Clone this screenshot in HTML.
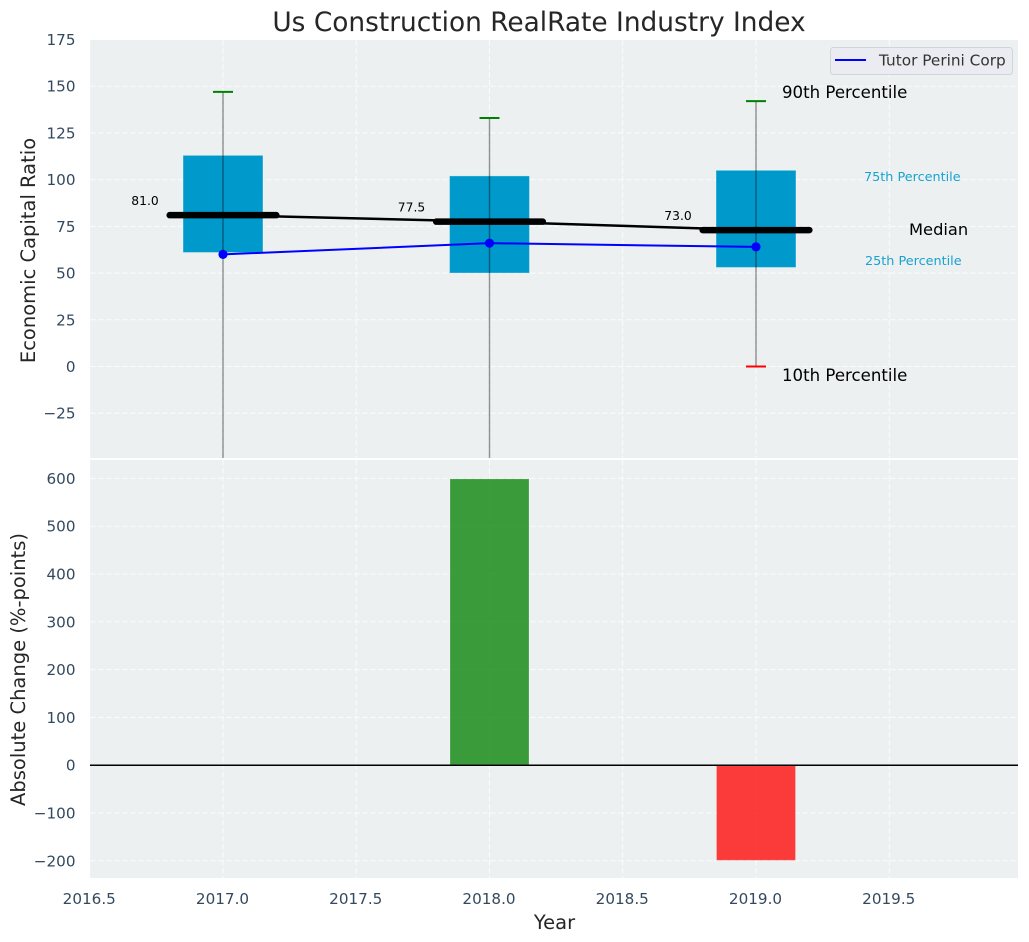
<!DOCTYPE html>
<html lang="en">
<head>
<meta charset="utf-8">
<title>Us Construction RealRate Industry Index</title>
<style>
html,body{margin:0;padding:0;background:#fff;}
svg{display:block;font-family:"DejaVu Sans","Liberation Sans",sans-serif;}
</style>
</head>
<body>
<svg id="chart" xmlns="http://www.w3.org/2000/svg" width="1029" height="942" viewBox="0 0 1029 942">
  <defs>
    <clipPath id="clip-top"><rect x="90" y="40" width="928" height="418"/></clipPath>
    <clipPath id="clip-bottom"><rect x="90" y="460" width="928" height="418"/></clipPath>
  </defs>
  <rect x="90" y="40" width="928" height="418" fill="#ecf0f1"/>
  <rect x="90" y="460" width="928" height="418" fill="#ecf0f1"/>
  <g id="top-grid"></g>
  <g id="bottom-grid"></g>
  <g id="top-marks" clip-path="url(#clip-top)"></g>
  <g id="bottom-marks" clip-path="url(#clip-bottom)"></g>
  <g id="tick-labels"></g>

  <text x="539" y="31" font-size="26.4" fill="#262626" text-anchor="middle">Us Construction RealRate Industry Index</text>
  <text transform="translate(35,250.5) rotate(-90)" font-size="19.5" fill="#262626" text-anchor="middle">Economic Capital Ratio</text>
  <text transform="translate(25,669.5) rotate(-90)" font-size="19.5" fill="#262626" text-anchor="middle">Absolute Change (%-points)</text>
  <text x="554.5" y="929" font-size="19.5" fill="#262626" text-anchor="middle">Year</text>

  <text x="782" y="98" font-size="16.6" fill="#000">90th Percentile</text>
  <text x="782" y="381" font-size="16.6" fill="#000">10th Percentile</text>
  <text x="909" y="235" font-size="16.3" fill="#000">Median</text>
  <text x="864" y="181" font-size="12.8" fill="#0099cc" fill-opacity="0.9">75th Percentile</text>
  <text x="865" y="265" font-size="12.8" fill="#0099cc" fill-opacity="0.9">25th Percentile</text>

  <g>
    <rect x="830.5" y="47.5" width="182" height="27" rx="3" fill="#eaecf1" stroke="#d2d4d9"/>
    <line x1="835" y1="60" x2="866" y2="60" stroke="#0000ff" stroke-width="2"/>
    <text x="879" y="65.5" font-size="15.3" fill="#333">Tutor Perini Corp</text>
  </g>
</svg>
<script>
const years = [2017, 2018, 2019];
const p10 = [-100, -100, 0];
const p25 = [61, 50, 53];
const median = [81, 77.5, 73];
const p75 = [113, 102, 105];
const p90 = [147, 133, 142];
const company = [60, 66, 64];
const changeYears = [2018, 2019];
const changes = [600, -200];
const xTicks = [2016.5, 2017, 2017.5, 2018, 2018.5, 2019, 2019.5];
const topYTicks = [-25, 0, 25, 50, 75, 100, 125, 150, 175];
const bottomYTicks = [-200, -100, 0, 100, 200, 300, 400, 500, 600];
const boxWidthYears = 0.3;
const medianHalfYears = 0.2;
const capHalfYears = 0.0375;

const NS = 'http://www.w3.org/2000/svg';
const xs = v => 223 + (v - 2017) * 266.5;
const yTop = v => 366.5 - v * 1.8686;
const yBottom = v => 765.2 - v * 0.478;
const topGrid = document.getElementById('top-grid');
const bottomGrid = document.getElementById('bottom-grid');
const topMarks = document.getElementById('top-marks');
const bottomMarks = document.getElementById('bottom-marks');
const tickLabels = document.getElementById('tick-labels');

function mk(tag, attrs, parent) {
  const e = document.createElementNS(NS, tag);
  Object.keys(attrs).forEach(k => e.setAttribute(k, attrs[k]));
  parent.appendChild(e);
  return e;
}
const gridStyle = { stroke: '#ffffff', 'stroke-width': 1, 'stroke-opacity': 0.8, 'stroke-dasharray': '5.5 2.5' };
const fmt = v => String(v).replace('-', '\u2212');

xTicks.forEach(t => {
  const a = mk('line', Object.assign({ x1: xs(t), x2: xs(t), y1: 40, y2: 458 }, gridStyle), topGrid);
  
  
  const b = mk('line', Object.assign({ x1: xs(t), x2: xs(t), y1: 460, y2: 878 }, gridStyle), bottomGrid);
  
  
  const l = mk('text', { x: xs(t) - 0.5, y: 904, 'font-size': 15.2, fill: '#34495e', 'text-anchor': 'middle' }, tickLabels);
  
  
  l.textContent = t.toFixed(1);
});
topYTicks.forEach(t => {
  const a = mk('line', Object.assign({ x1: 90, x2: 1018, y1: yTop(t), y2: yTop(t) }, gridStyle), topGrid);
  
  
  const l = mk('text', { x: 75.5, y: yTop(t) + 5.5, 'font-size': 15.2, fill: '#34495e', 'text-anchor': 'end' }, tickLabels);
  
  
  l.textContent = fmt(t);
});
bottomYTicks.forEach(t => {
  const a = mk('line', Object.assign({ x1: 90, x2: 1018, y1: yBottom(t), y2: yBottom(t) }, gridStyle), bottomGrid);
  
  
  const l = mk('text', { x: 75.5, y: yBottom(t) + 5.5, 'font-size': 15.2, fill: '#34495e', 'text-anchor': 'end' }, tickLabels);
  
  
  l.textContent = fmt(t);
});

years.forEach((yr, i) => {
  const box = mk('rect', {
    x: xs(yr - boxWidthYears / 2), width: xs(yr + boxWidthYears / 2) - xs(yr - boxWidthYears / 2),
    y: yTop(p75[i]), height: yTop(p25[i]) - yTop(p75[i]),
    fill: '#0099cc', stroke: '#ffffff', 'stroke-opacity': 0.35, 'stroke-width': 1
  }, topMarks);
  
  
});
const medianPath = mk('polyline', {
  points: years.map((yr, i) => xs(yr) + ',' + yTop(median[i])).join(' '),
  fill: 'none', stroke: '#000', 'stroke-width': 2.5
}, topMarks);



years.forEach((yr, i) => {
  const w = mk('line', {
    x1: xs(yr), x2: xs(yr), y1: yTop(p90[i]), y2: yTop(p10[i]),
    stroke: '#000', 'stroke-opacity': 0.42, 'stroke-width': 1.4
  }, topMarks);
  
  
  const hi = mk('line', {
    x1: xs(yr - capHalfYears), x2: xs(yr + capHalfYears), y1: yTop(p90[i]), y2: yTop(p90[i]),
    stroke: '#008000', 'stroke-width': 2
  }, topMarks);
  
  
  const lo = mk('line', {
    x1: xs(yr - capHalfYears), x2: xs(yr + capHalfYears), y1: yTop(p10[i]), y2: yTop(p10[i]),
    stroke: '#ff0000', 'stroke-width': 2
  }, topMarks);
  
  
  const m = mk('line', {
    x1: xs(yr - medianHalfYears), x2: xs(yr + medianHalfYears), y1: yTop(median[i]), y2: yTop(median[i]),
    stroke: '#000', 'stroke-width': 6.5, 'stroke-linecap': 'round'
  }, topMarks);
  
  
  const t = mk('text', {
    x: xs(yr) - 78, y: yTop(median[i]) - 10, 'font-size': 12.3, fill: '#000', 'text-anchor': 'middle'
  }, topMarks);
  
  
  t.textContent = median[i].toFixed(1);
});

const companyPath = mk('polyline', {
  points: years.map((yr, i) => xs(yr) + ',' + yTop(company[i])).join(' '),
  fill: 'none', stroke: '#0000ff', 'stroke-width': 2
}, topMarks);


years.forEach((yr, i) => {
  const c = mk('circle', { cx: xs(yr), cy: yTop(company[i]), r: 4.6, fill: '#0000ff' }, topMarks);
  
  
});

changeYears.forEach((yr, i) => {
  const v = changes[i];
  const top = Math.min(yBottom(v), yBottom(0));
  const bar = mk('rect', {
    x: xs(yr - boxWidthYears / 2) + 0.5, width: xs(yr + boxWidthYears / 2) - xs(yr - boxWidthYears / 2) - 1,
    y: top + 0.5, height: Math.abs(yBottom(v) - yBottom(0)) - 1,
    fill: v >= 0 ? '#008000' : '#ff0000', 'fill-opacity': 0.76,
    stroke: '#ffffff', 'stroke-opacity': 0.2, 'stroke-width': 1
  }, bottomMarks);
  
  
});
const zero = mk('line', { x1: 90, x2: 1018, y1: yBottom(0), y2: yBottom(0), stroke: '#000', 'stroke-width': 1.5 }, bottomMarks);


</script>
</body>
</html>
